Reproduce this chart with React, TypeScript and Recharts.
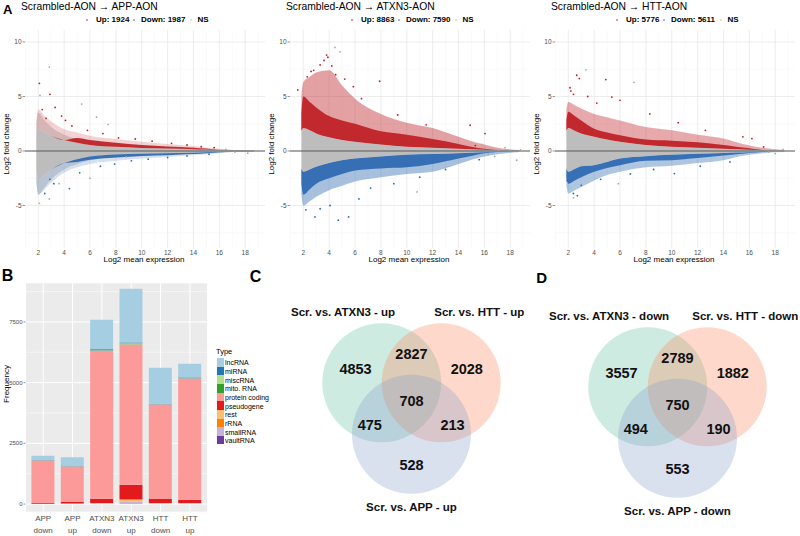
import React from 'react';
import {
  ComposedChart,
  Area,
  Scatter,
  XAxis,
  YAxis,
  CartesianGrid,
  ReferenceLine,
  BarChart,
  Bar,
  ScatterChart,
} from 'recharts';

const FONT = '"Liberation Sans", Arial, Helvetica, sans-serif';
const RED = '#BF1E24';
const BLUE = '#2C68B0';
const GREY = '#BDBDBD';
const AXIS_TXT = '#4D4D4D';

// ---------- Panel A: MA plots (envelopes of the point clouds) ----------
const MA_X = [1.85, 2, 2.5, 3, 4, 5, 6, 8, 10, 12, 14, 15, 16, 17, 18.7];
const MA_X_TICKS = [2, 4, 6, 8, 10, 12, 14, 16, 18];
const MA_X_MINOR = [1, 3, 5, 7, 9, 11, 13, 15, 17, 19];
const MA_Y_TICKS = [-5, 0, 5, 10];
const MA_Y_MINOR = [-7.5, -2.5, 2.5, 7.5];

// APP
const appGreySparseHi = [2.5, 3.5, 2.8, 2.2, 1.5, 1.1, 0.8, 0.55, 0.4, 0.3, 0.22, 0.18, 0.15, 0.1, 0.06];
const appGreySparseLo = [-2.8, -4.0, -3.3, -2.6, -1.7, -1.2, -0.85, -0.6, -0.45, -0.35, -0.25, -0.2, -0.16, -0.1, -0.06];
const appGreyHi = [1.5, 2.0, 1.7, 1.4, 1.0, 0.75, 0.55, 0.38, 0.28, 0.22, 0.16, 0.13, 0.1, 0.07, 0.05];
const appGreyLo = [-1.8, -2.6, -2.1, -1.7, -1.1, -0.75, -0.5, -0.32, -0.25, -0.2, -0.15, -0.12, -0.1, -0.07, -0.05];
const appRedTop = [1.5, 2.0, 1.7, 1.4, 1.0, 1.2, 1.0, 0.75, 0.55, 0.42, 0.3, 0.22, 0.1, 0.07, 0.05];
const appRedSparse = [2.8, 3.8, 3.2, 2.7, 2.0, 1.7, 1.4, 1.1, 0.85, 0.65, 0.45, 0.3, 0.2, 0.1, 0.05];
const appBlueLo = [-1.8, -2.6, -2.1, -1.7, -1.1, -1.0, -0.8, -0.6, -0.45, -0.38, -0.28, -0.2, -0.12, -0.07, -0.05];
const appBlueSparse = [-3.0, -4.0, -3.5, -2.9, -2.0, -1.5, -1.2, -0.9, -0.7, -0.55, -0.4, -0.3, -0.2, -0.1, -0.05];
const appGreyPts = [[2.85, 7.7], [2.13, 5.1], [5.35, 4.3], [6.0, -2.5], [2.08, -4.8], [2.85, -4.4], [6.5, 3.1], [7.4, 2.45], [8.8, -0.55], [3.6, -3.0], [16.5, 0.15], [17.2, -0.1], [18.2, -0.2]];
const appRedPts = [[2.08, 6.2], [2.9, 5.2], [3.3, 4.0], [2.3, 3.8], [4.1, 2.8], [4.6, 2.3], [5.8, 1.9], [7.0, 1.6], [8.2, 1.2], [9.5, 1.1], [10.8, 0.9], [12.3, 0.7], [13.5, 0.55], [14.6, 0.4], [15.6, 0.3], [3.8, 3.2], [2.6, 3.0]];
const appBluePts = [[4.4, -3.45], [2.5, -3.9], [3.2, -3.0], [5.2, -2.0], [6.8, -1.4], [7.9, -1.2], [9.2, -0.9], [10.5, -0.75], [12.0, -0.6], [13.5, -0.45], [15.2, -0.3], [2.9, -2.6]];

// ATXN3
const atxGreyHi = [1.8, 2.1, 1.9, 1.6, 1.25, 1.0, 0.85, 0.6, 0.4, 0.3, 0.2, 0.15, 0.12, 0.08, 0.05];
const atxGreyLo = [-1.6, -1.9, -1.7, -1.45, -1.1, -0.85, -0.7, -0.5, -0.35, -0.28, -0.2, -0.15, -0.12, -0.08, -0.05];
const atxRedTop = [3.5, 5.0, 4.5, 4.0, 3.2, 2.8, 2.5, 1.8, 1.5, 1.1, 0.65, 0.4, 0.2, 0.1, 0.05];
const atxRedSparse = [5.0, 6.3, 6.8, 7.2, 7.4, 6.0, 4.8, 3.4, 2.6, 2.1, 1.3, 0.9, 0.6, 0.3, 0.1];
const atxBlueLo = [-3.0, -4.0, -3.5, -3.0, -2.5, -2.1, -1.8, -1.6, -1.5, -1.2, -0.7, -0.45, -0.2, -0.1, -0.05];
const atxBlueSparse = [-4.0, -5.0, -4.6, -4.2, -3.6, -3.2, -2.8, -2.4, -2.1, -1.9, -1.2, -0.8, -0.5, -0.3, -0.1];
const atxGreyPts = [[4.45, 9.5], [4.84, 9.1], [10.8, -3.76], [18.5, -0.85], [17.1, 0.06], [18.8, 0.1], [16.3, -0.3], [17.6, 0.3], [15.8, 0.6], [16.8, -0.5]];
const atxRedPts = [[3.8, 8.8], [1.57, 5.6], [5.87, 5.9], [7.9, 6.4], [16.05, 1.6], [14.9, 2.36], [15.3, 0.5], [6.5, 4.8], [9.3, 3.3], [11.5, 2.4], [4.5, 7.0], [3.3, 7.9], [2.6, 7.3], [3.6, 8.3], [3.9, 8.6], [2.3, 6.8], [2.8, 7.4], [5.2, 6.6], [4.2, 7.8]];
const atxBluePts = [[2.9, -6.05], [4.7, -6.35], [5.5, -6.05], [3.3, -5.3], [4.07, -5.0], [6.3, -4.4], [7.2, -3.4], [9.0, -3.0], [11.0, -2.4], [13.0, -1.7], [15.6, -0.8], [2.2, -5.4]];

// HTT
const httGreyHi = [1.8, 2.1, 1.85, 1.6, 1.3, 1.05, 0.85, 0.55, 0.4, 0.3, 0.2, 0.15, 0.12, 0.08, 0.05];
const httGreyLo = [-1.6, -1.9, -1.65, -1.4, -1.3, -1.0, -0.7, -0.48, -0.35, -0.26, -0.18, -0.14, -0.11, -0.08, -0.05];
const httRedTop = [2.8, 3.6, 3.2, 2.8, 2.05, 1.7, 1.45, 1.05, 0.95, 0.8, 0.55, 0.4, 0.25, 0.1, 0.05];
const httRedSparse = [3.8, 4.5, 4.2, 3.9, 3.4, 3.1, 2.8, 2.2, 1.9, 1.5, 1.15, 0.8, 0.5, 0.3, 0.1];
const httBlueLo = [-2.5, -3.0, -2.7, -2.4, -1.9, -1.55, -1.3, -0.9, -0.85, -0.65, -0.42, -0.3, -0.18, -0.1, -0.05];
const httBlueSparse = [-3.2, -3.9, -3.6, -3.3, -2.7, -2.2, -1.9, -1.5, -1.35, -1.1, -0.85, -0.55, -0.35, -0.2, -0.1];
const httGreyPts = [[3.37, 7.45], [7.08, 6.3], [5.87, -3.0], [18.0, -0.24], [18.6, 0.15], [17.5, -0.1], [2.4, -4.3]];
const httRedPts = [[2.65, 6.95], [2.85, 6.64], [2.13, 5.8], [2.2, 5.5], [4.9, 6.55], [5.36, 4.95], [6.0, 4.65], [15.5, 1.3], [16.2, 1.14], [17.1, 0.37], [3.5, 5.0], [4.2, 4.4], [8.3, 3.4], [10.5, 2.6], [12.6, 1.9], [2.4, 5.2]];
const httBluePts = [[1.92, -2.7], [2.39, -3.9], [3.0, -3.15], [10.2, -2.07], [4.5, -2.6], [6.8, -2.1], [8.6, -1.7], [12.2, -1.4], [14.5, -1.0], [2.7, -4.1]];

// ---------- Panel B: stacked bars ----------
const barCats = ['APP down', 'APP up', 'ATXN3 down', 'ATXN3 up', 'HTT down', 'HTT up'];
const lncRNA = [177, 360, 1215, 2213, 1478, 561];
const miRNA = [10, 12, 40, 30, 20, 30];
const miscRNA = [5, 5, 15, 40, 10, 12];
const mitoRNA = [3, 2, 5, 10, 3, 3];
const proteinCoding = [1750, 1460, 6100, 5780, 3890, 4990];
const pseudogene = [25, 60, 170, 600, 165, 140];
const rest = [10, 15, 25, 100, 30, 25];
const rRNA = [2, 2, 5, 10, 5, 5];
const smallRNA = [5, 8, 15, 80, 10, 10];
const vaultRNA = [0, 0, 0, 0, 0, 0];

const TYPES = [
  { key: 'lncRNA', label: 'lncRNA', color: '#A6CEE3', values: lncRNA },
  { key: 'miRNA', label: 'miRNA', color: '#1F78B4', values: miRNA },
  { key: 'miscRNA', label: 'miscRNA', color: '#B2DF8A', values: miscRNA },
  { key: 'mitoRNA', label: 'mito. RNA', color: '#33A02C', values: mitoRNA },
  { key: 'proteinCoding', label: 'protein coding', color: '#FB9A99', values: proteinCoding },
  { key: 'pseudogene', label: 'pseudogene', color: '#E31A1C', values: pseudogene },
  { key: 'rest', label: 'rest', color: '#FDBF6F', values: rest },
  { key: 'rRNA', label: 'rRNA', color: '#FF7F00', values: rRNA },
  { key: 'smallRNA', label: 'smallRNA', color: '#CAB2D6', values: smallRNA },
  { key: 'vaultRNA', label: 'vaultRNA', color: '#6A3D9A', values: vaultRNA },
];
const BAR_Y_TICKS = [0, 2500, 5000, 7500];
const BAR_Y_MINOR = [1250, 3750, 6250, 8750];

// ---------- Panels C, D: Venn diagrams ----------
const vennUpLabels = ['Scr. vs. ATXN3 - up', 'Scr. vs. HTT - up', 'Scr. vs. APP - up'];
const vennDownLabels = ['Scr. vs. ATXN3 - down', 'Scr. vs. HTT - down', 'Scr. vs. APP - down'];
// order: ATXN3 only, ATXN3&HTT, HTT only, all, ATXN3&APP, HTT&APP, APP only
const vennUpCounts = [4853, 2827, 2028, 708, 475, 213, 528];
const vennDownCounts = [3557, 2789, 1882, 750, 494, 190, 553];
const VENN_CX = [-0.5, 0.5, 0];
const VENN_CY = [0.289, 0.289, -0.577];
const VENN_FILL = ['#66C2A5', '#FC8D62', '#8DA0CB'];
const VENN_NX = [-0.94, 0, 0.93, 0, -0.7, 0.69, 0];
const VENN_NY = [0.52, 0.77, 0.52, -0.02, -0.42, -0.42, -1.1];
const VENN_LX = [-1.15, 1.14, 0];
const VENN_LY = [1.48, 1.48, -1.8];
const VENN_XD = [-2.378, 2.076];
const VENN_YD = [-2.286, 2.437];
const VENN_W = 265;
const VENN_H = 281;

function Txt({ x, y, size, bold, anchor = 'start', rotate, color = '#000', children }: any) {
  const tx = anchor === 'middle' ? '-50%' : anchor === 'end' ? '-100%' : '0';
  return (
    <div
      style={{
        position: 'absolute',
        left: x,
        top: y,
        fontSize: size,
        fontWeight: bold ? 700 : 400,
        color,
        lineHeight: 1,
        whiteSpace: 'nowrap',
        transform: `translate(${tx}, -50%)${rotate ? ` rotate(${rotate}deg)` : ''}`,
      }}
    >
      {children}
    </div>
  );
}

const dotShape = (color: string) => (p: any) => <circle cx={p.cx} cy={p.cy} r={0.9} fill={color} />;
const toPts = (arr: number[][]) => arr.map(([x, y]) => ({ x, y }));

function MAPlot({ left, title, up, down, s, pts, sparseOpacity }: any) {
  const rows = MA_X.map((x, i) => ({
    x,
    gs: s.gsHi ? [s.gsLo[i], s.gsHi[i]] : null,
    g: [s.greyLo[i], s.greyHi[i]],
    rs: [s.greyHi[i], s.redSparse[i]],
    r: [s.greyHi[i], s.redTop[i]],
    bs: [s.blueSparse[i], s.greyLo[i]],
    b: [s.blueLo[i], s.greyLo[i]],
  }));
  const area = (key: string, fill: string, op: number) => (
    <Area
      dataKey={key}
      type="monotone"
      stroke="none"
      fill={fill}
      fillOpacity={op}
      dot={false}
      activeDot={false}
      isAnimationActive={false}
    />
  );
  return (
    <div style={{ position: 'absolute', left, top: 0, width: 265, height: 268 }}>
      <Txt x={21} y={6.5} size={10.3}>{title}</Txt>
      <svg style={{ position: 'absolute', left: 0, top: 0 }} width={265} height={30}>
        <circle cx={87} cy={20} r={0.8} fill={RED} />
        <circle cx={134} cy={20} r={0.8} fill={BLUE} />
        <circle cx={191} cy={20} r={0.8} fill={GREY} />
      </svg>
      <Txt x={96} y={20} size={8} bold>{`Up: ${up}`}</Txt>
      <Txt x={141} y={20} size={8} bold>{`Down: ${down}`}</Txt>
      <Txt x={197.5} y={20} size={8} bold>NS</Txt>
      <ComposedChart width={265} height={268} data={rows} margin={{ top: 30, right: 0, bottom: 0, left: 0 }}>
        <CartesianGrid stroke="#F2F2F2" strokeWidth={0.5} horizontalValues={MA_Y_MINOR} verticalValues={MA_X_MINOR} />
        <CartesianGrid stroke="#E8E8E8" strokeWidth={0.8} horizontalValues={MA_Y_TICKS} verticalValues={MA_X_TICKS} />
        <XAxis
          dataKey="x"
          type="number"
          domain={[0.97, 19.53]}
          ticks={MA_X_TICKS}
          allowDataOverflow
          axisLine={false}
          tickLine={false}
          tickSize={0}
          tickMargin={2}
          height={20}
          interval={0}
          tick={{ fontSize: 6.5, fill: AXIS_TXT, fontFamily: FONT }}
        />
        <YAxis
          type="number"
          domain={[-8.9, 11.1]}
          ticks={MA_Y_TICKS}
          allowDataOverflow
          width={25}
          axisLine={false}
          tickLine={{ stroke: '#333', strokeWidth: 0.5 }}
          tickSize={2.5}
          tickMargin={1}
          interval={0}
          tick={{ fontSize: 6.5, fill: AXIS_TXT, fontFamily: FONT }}
        />
        {s.gsHi && area('gs', GREY, 0.55)}
        {area('rs', RED, sparseOpacity)}
        {area('bs', BLUE, sparseOpacity)}
        {area('g', GREY, 1)}
        {area('r', RED, 0.92)}
        {area('b', BLUE, 0.92)}
        <Scatter data={toPts(pts.grey)} dataKey="y" fill={GREY} shape={dotShape('#A8A8A8')} isAnimationActive={false} />
        <Scatter data={toPts(pts.red)} dataKey="y" fill={RED} shape={dotShape(RED)} isAnimationActive={false} />
        <Scatter data={toPts(pts.blue)} dataKey="y" fill={BLUE} shape={dotShape(BLUE)} isAnimationActive={false} />
        <ReferenceLine y={0} stroke="#5A5A5A" strokeWidth={1.1} />
      </ComposedChart>
      <Txt x={144} y={259.5} size={8} anchor="middle">Log2 mean expression</Txt>
      <Txt x={6.7} y={144} size={8} anchor="middle" rotate={-90}>Log2 fold change</Txt>
    </div>
  );
}

const BarTick = (p: any) => {
  const [a, b] = String(p.payload.value).split(' ');
  return (
    <text x={p.x} y={p.y} textAnchor="middle" fontSize={8} fill={AXIS_TXT} fontFamily={FONT}>
      <tspan x={p.x} dy={9}>{a}</tspan>
      <tspan x={p.x} dy={12}>{b}</tspan>
    </text>
  );
};

function TypeBars() {
  const rows = barCats.map((cat, i) => {
    const row: any = { cat };
    TYPES.forEach(t => (row[t.key] = t.values[i]));
    return row;
  });
  // ggplot stacks the first level on top, so draw bottom-up in reverse
  const stackOrder = [...TYPES].reverse();
  return (
    <div style={{ position: 'absolute', left: 0, top: 255, width: 270, height: 281 }}>
      <BarChart
        width={270}
        height={281}
        data={rows}
        margin={{ top: 28.3, right: 62.4, bottom: 0, left: 0 }}
        barCategoryGap="10%"
      >
        <CartesianGrid fill="#EBEBEB" stroke="#FFFFFF" strokeWidth={0.5} vertical={false} horizontalValues={BAR_Y_MINOR} />
        <CartesianGrid stroke="#FFFFFF" strokeWidth={1} horizontalValues={BAR_Y_TICKS} />
        <XAxis
          dataKey="cat"
          interval={0}
          padding={{ left: 3, right: 3 }}
          height={24.3}
          axisLine={false}
          tickLine={false}
          tickSize={0}
          tickMargin={0}
          tick={BarTick}
        />
        <YAxis
          domain={[-315, 9090]}
          ticks={BAR_Y_TICKS}
          allowDataOverflow
          width={25.5}
          axisLine={false}
          tickLine={{ stroke: '#333', strokeWidth: 0.5 }}
          tickSize={2}
          tickMargin={1}
          interval={0}
          tick={{ fontSize: 6, fill: AXIS_TXT, fontFamily: FONT }}
        />
        {stackOrder.map(t => (
          <Bar key={t.key} dataKey={t.key} stackId="type" fill={t.color} isAnimationActive={false} />
        ))}
      </BarChart>
      <Txt x={6.5} y={129} size={8} anchor="middle" rotate={-90}>Frequency</Txt>
      <Txt x={216} y={96.7} size={7.5}>Type</Txt>
      {TYPES.map((t, i) => (
        <React.Fragment key={t.key}>
          <div
            style={{
              position: 'absolute',
              left: 216.5,
              top: 103 + i * 8.65,
              width: 7,
              height: 8.65,
              background: t.color,
            }}
          />
          <Txt x={225} y={107.3 + i * 8.65} size={7}>{t.label}</Txt>
        </React.Fragment>
      ))}
    </div>
  );
}

function Venn({ left, top, labels, counts }: any) {
  const pxPerUnit = VENN_W / (VENN_XD[1] - VENN_XD[0]);
  const circles = VENN_CX.map((x, i) => ({ x, y: VENN_CY[i], fill: VENN_FILL[i] }));
  const countPts = counts.map((c: number, i: number) => ({ x: VENN_NX[i], y: VENN_NY[i], label: String(c) }));
  const labelPts = labels.map((t: string, i: number) => ({ x: VENN_LX[i], y: VENN_LY[i], label: t }));
  const textShape = (size: number) => (p: any) => (
    <text
      x={p.cx}
      y={p.cy}
      textAnchor="middle"
      dominantBaseline="central"
      fontSize={size}
      fontWeight={700}
      fontFamily={FONT}
      fill="#111"
    >
      {p.payload.label}
    </text>
  );
  return (
    <div style={{ position: 'absolute', left, top, width: VENN_W, height: VENN_H }}>
      <ScatterChart width={VENN_W} height={VENN_H} margin={{ top: 0, right: 0, bottom: 0, left: 0 }}>
        <XAxis type="number" dataKey="x" domain={VENN_XD} hide allowDataOverflow />
        <YAxis type="number" dataKey="y" domain={VENN_YD} hide allowDataOverflow />
        <Scatter
          data={circles}
          isAnimationActive={false}
          shape={(p: any) => (
            <circle cx={p.cx} cy={p.cy} r={pxPerUnit} fill={p.payload.fill} fillOpacity={0.33} />
          )}
        />
        <Scatter data={countPts} isAnimationActive={false} shape={textShape(14.5)} />
        <Scatter data={labelPts} isAnimationActive={false} shape={textShape(11.5)} />
      </ScatterChart>
    </div>
  );
}

export default function App() {
  return (
    <div
      style={{
        position: 'absolute',
        left: 0,
        top: 0,
        width: 800,
        height: 536,
        overflow: 'hidden',
        background: '#fff',
        fontFamily: FONT,
      }}
    >
      <MAPlot
        left={0}
        title="Scrambled-AON → APP-AON"
        up={1924}
        down={1987}
        sparseOpacity={0.2}
        s={{
          gsHi: appGreySparseHi, gsLo: appGreySparseLo, greyHi: appGreyHi, greyLo: appGreyLo,
          redTop: appRedTop, redSparse: appRedSparse, blueLo: appBlueLo, blueSparse: appBlueSparse,
        }}
        pts={{ grey: appGreyPts, red: appRedPts, blue: appBluePts }}
      />
      <MAPlot
        left={265}
        title="Scrambled-AON → ATXN3-AON"
        up={8863}
        down={7590}
        sparseOpacity={0.42}
        s={{
          greyHi: atxGreyHi, greyLo: atxGreyLo, redTop: atxRedTop, redSparse: atxRedSparse,
          blueLo: atxBlueLo, blueSparse: atxBlueSparse,
        }}
        pts={{ grey: atxGreyPts, red: atxRedPts, blue: atxBluePts }}
      />
      <MAPlot
        left={530}
        title="Scrambled-AON → HTT-AON"
        up={5776}
        down={5611}
        sparseOpacity={0.38}
        s={{
          greyHi: httGreyHi, greyLo: httGreyLo, redTop: httRedTop, redSparse: httRedSparse,
          blueLo: httBlueLo, blueSparse: httBlueSparse,
        }}
        pts={{ grey: httGreyPts, red: httRedPts, blue: httBluePts }}
      />
      <TypeBars />
      <Venn left={270} top={255} labels={vennUpLabels} counts={vennUpCounts} />
      <Venn left={535.5} top={259.3} labels={vennDownLabels} counts={vennDownCounts} />
      <Txt x={3} y={8.7} size={13} bold>A</Txt>
      <Txt x={7.5} y={276} size={16} bold anchor="middle">B</Txt>
      <Txt x={255.5} y={276.5} size={16} bold anchor="middle">C</Txt>
      <Txt x={541.7} y={276.7} size={15} bold anchor="middle">D</Txt>
    </div>
  );
}
